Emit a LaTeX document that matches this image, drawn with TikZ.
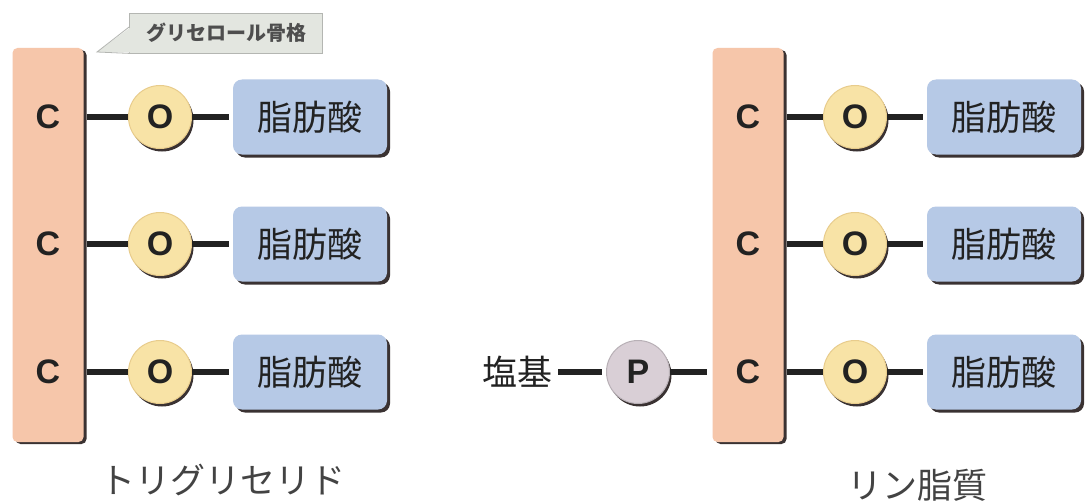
\documentclass[tikz,border=0pt]{standalone}
\usepackage{fontspec}
\setmainfont{Liberation Sans}
\newfontfamily\jp{Noto Sans CJK JP}
\usetikzlibrary{shadows}
\definecolor{colfill}{HTML}{F6C6AA}
\definecolor{ofill}{HTML}{F8E3A6}
\definecolor{orim}{HTML}{E8CC8C}
\definecolor{fafill}{HTML}{B6C9E6}
\definecolor{pfill}{HTML}{D9CFD6}
\definecolor{calfill}{HTML}{E3E6E0}
\definecolor{caldraw}{HTML}{B4B6B2}
\definecolor{shad}{HTML}{3A3232}
\definecolor{txt}{HTML}{222222}
\begin{document}
\begin{tikzpicture}[x=1pt,y=-1pt,
  col/.style={fill=colfill, rounded corners=5pt, minimum width=71pt, minimum height=394pt, inner sep=0pt,
    drop shadow={shadow xshift=3pt, shadow yshift=-2pt, fill=shad, opacity=1}},
  clabel/.style={font=\bfseries\fontsize{34}{34}\selectfont, text=txt, inner sep=0pt},
  ocirc/.style={circle, fill=ofill, draw=orim, line width=1pt, minimum size=63pt, inner sep=0pt,
    font=\bfseries\fontsize{34}{34}\selectfont, text=txt,
    drop shadow={shadow xshift=2pt, shadow yshift=-3pt, fill=shad, opacity=1}},
  pcirc/.style={ocirc, fill=pfill, draw=pfill!85!black},
  fa/.style={fill=fafill, rounded corners=9pt, minimum width=154pt, minimum height=75pt, inner sep=0pt,
    font=\jp\fontsize{35}{35}\selectfont, text=txt,
    drop shadow={shadow xshift=3pt, shadow yshift=-3pt, fill=shad, opacity=1}},
  bond/.style={line width=6pt, draw=txt},
  title/.style={font=\jp\fontsize{35}{35}\selectfont, text=txt!85!white, inner sep=0pt},
  calbox/.style={fill=calfill, draw=caldraw, line width=0.8pt, minimum width=193pt, minimum height=40pt,
    inner sep=0pt, font=\jp\bfseries\fontsize{20}{20}\selectfont, text=txt!80!white}
]
\useasboundingbox (0,0) rectangle (1085,503);
\fill[white] (0,0) rectangle (1085,503);

% ---------- Triglyceride ----------
\node[col] (colL) at (48,245) {};
\node[clabel] (cL1) at (48,117) {C};
\node[clabel] (cL2) at (48,244) {C};
\node[clabel] (cL3) at (48,372) {C};
\node[ocirc] (oL1) at (160,117) {O};
\node[ocirc] (oL2) at (160,244) {O};
\node[ocirc] (oL3) at (160,372) {O};
\node[fa] (fL1) at (310,117) {脂肪酸};
\node[fa] (fL2) at (310,244) {脂肪酸};
\node[fa] (fL3) at (310,372) {脂肪酸};
\foreach \i in {1,2,3}{
  \draw[bond] ([xshift=3pt]cL\i -| colL.east) -- (oL\i.west);
  \draw[bond] (oL\i.east) -- ([xshift=-4pt]fL\i.west);
}
\node[title] (tL) at (223,480) {トリグリセリド};

% callout
\node[calbox] (cap) at (226,33) {グリセロール骨格};
\coordinate (tip) at (97,52);
\fill[calfill] (tip) -- ([xshift=2pt,yshift=6pt]cap.west) -- ([xshift=2pt,yshift=1pt]cap.south west) -- cycle;
\draw[caldraw, line width=0.8pt] ([yshift=6pt]cap.west) -- (tip) -- (cap.south west);

% ---------- Phospholipid ----------
\node[col] (colR) at (748,245) {};
\node[clabel] (cR1) at (748,117) {C};
\node[clabel] (cR2) at (748,244) {C};
\node[clabel] (cR3) at (748,372) {C};
\node[ocirc] (oR1) at (855,117) {O};
\node[ocirc] (oR2) at (855,244) {O};
\node[ocirc] (oR3) at (855,372) {O};
\node[fa] (fR1) at (1004,117) {脂肪酸};
\node[fa] (fR2) at (1004,244) {脂肪酸};
\node[fa] (fR3) at (1004,372) {脂肪酸};
\foreach \i in {1,2,3}{
  \draw[bond] ([xshift=3pt]cR\i -| colR.east) -- (oR\i.west);
  \draw[bond] (oR\i.east) -- ([xshift=-4pt]fR\i.west);
}
\node[pcirc] (p) at (638,372) {P};
\node[font=\jp\fontsize{35}{35}\selectfont, text=txt, inner sep=0pt] (base) at (517,372) {塩基};
\draw[bond] ([xshift=6pt]base.east) -- ([xshift=-4pt]p.west);
\draw[bond] (p.east) -- ([xshift=-5pt]p -| colR.west);
\node[title] (tR) at (917,485) {リン脂質};
\end{tikzpicture}
\end{document}
